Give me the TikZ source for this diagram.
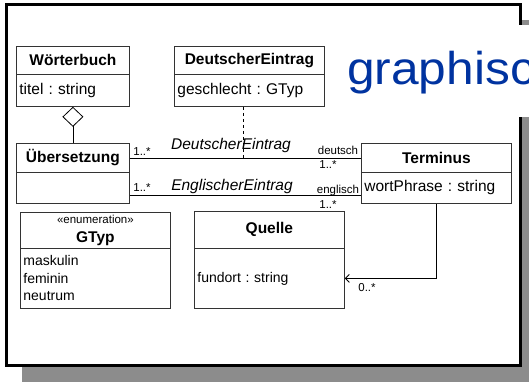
\documentclass[tikz,border=0pt]{standalone}
\usepackage{fontspec}
\setmainfont{Liberation Sans}
\usepackage{tikz}
\usetikzlibrary{arrows.meta}
\tikzset{>={Straight Barb[length=4pt,width=8pt]}}
\definecolor{titleblue}{RGB}{0,51,160}
\definecolor{shadowgray}{RGB}{140,140,140}
\frenchspacing

\begin{document}
\begin{tikzpicture}[x=1pt, y=-1pt,
  cls/.style={draw=black!80, line width=0.8pt, anchor=north west, inner sep=0pt},
  head/.style={cls, font=\fontsize{15.5}{18}\selectfont\bfseries, align=center},
  attr/.style={cls, font=\fontsize{15.5}{18}\selectfont, align=left, inner xsep=3pt},
  role/.style={font=\fontsize{15.5}{18}\selectfont\itshape, inner sep=0pt},
  mult/.style={font=\fontsize{11.5}{13}\selectfont, inner sep=0pt}]
  \useasboundingbox (0,0) rectangle (529,382);
  \clip (0,0) rectangle (529,382);

  % frame with shadow
  \fill[shadowgray] (22,20) rectangle (540,400);
  \draw[line width=3pt, fill=white] (6.5,4.5) rectangle (520,365.5);
  \node[anchor=base west, fill=white, inner sep=0pt, text height=60pt, text depth=32pt,
        text=titleblue, font=\fontsize{46}{50}\selectfont] (title) at (347,85)
    {\scalebox{1.08}[1]{graphisc}};

  % classes
  \node[head, minimum width=113pt, minimum height=28pt] (woerterbuch) at (16,46) {Wörterbuch};
  \node[attr, text width=107pt, minimum height=32pt] (woerterbuchAttr) at (16,74) {titel : string};

  \node[head, minimum width=150pt, minimum height=28pt] (deutscher) at (174,46) {DeutscherEintrag};
  \node[attr, text width=144pt, minimum height=32pt] (deutscherAttr) at (174,74) {geschlecht : GTyp};

  \node[head, minimum width=113pt, minimum height=29pt] (uebersetzung) at (16,143) {Übersetzung};
  \node[attr, text width=107pt, minimum height=31pt] (uebersetzungAttr) at (16,172) {};

  \node[head, minimum width=150pt, minimum height=29pt] (terminus) at (361,143) {Terminus};
  \node[attr, text width=144pt, minimum height=31pt] (terminusAttr) at (361,172) {wortPhrase : string};

  \node[head, minimum width=150pt, minimum height=36pt] (gtyp) at (20,212)
    {{\fontsize{11.5}{13}\selectfont\mdseries «enumeration»}\\[1pt]GTyp};
  \node[attr, text width=144pt, minimum height=60pt, font=\fontsize{14}{17.5}\selectfont] (gtypAttr) at (20,248)
    {maskulin\\feminin\\neutrum};

  \node[head, minimum width=150pt, minimum height=37pt] (quelle) at (194,211) {Quelle};
  \node[attr, text width=144pt, minimum height=60pt, font=\fontsize{14}{17.5}\selectfont] (quelleAttr) at (194,248)
    {fundort : string};

  % associations
  \coordinate (deutscherLink) at (243,158);
  \draw[line width=0.8pt] (uebersetzung.east |- 0,158) -- (terminus.west |- 0,158);
  \draw[line width=0.8pt] (uebersetzungAttr.east |- 0,195) -- (terminusAttr.west |- 0,195);
  \draw[line width=0.8pt, dashed] (deutscherAttr.south -| deutscherLink) -- (deutscherLink);
  \draw[line width=0.8pt, -{Diamond[open,length=20pt,width=21pt]}] (uebersetzung.north) -- (woerterbuchAttr.south);
  \draw[line width=0.8pt, ->] (terminusAttr.south) |- (quelleAttr.east);

  % role names and multiplicities
  \node[mult] (m1) at (142,152) {1..*};
  \node[role] (rDeutsch) at (231,145) {DeutscherEintrag};
  \node[mult] (m2) at (338,150) {deutsch};
  \node[mult] (m3) at (328,165) {1..*};
  \node[mult] (m4) at (142,188) {1..*};
  \node[role] (rEnglisch) at (232,186) {EnglischerEintrag};
  \node[mult] (m5) at (338,191) {englisch};
  \node[mult] (m6) at (328,205) {1..*};
  \node[mult] (m7) at (367,288) {0..*};
\end{tikzpicture}
\end{document}
